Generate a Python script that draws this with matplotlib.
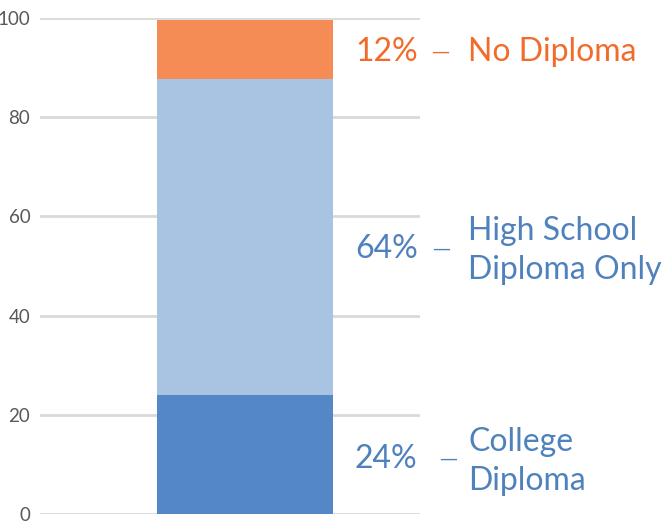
import matplotlib
matplotlib.use("Agg")
import matplotlib.pyplot as plt
import matplotlib.transforms as mtrans
from matplotlib.transforms import offset_copy

# Data
categories = ["College\nDiploma", "High School\nDiploma Only", "No Diploma"]
values = [24.0, 63.8, 11.8]
pct_labels = ["24%", "64%", "12%"]
bar_colors = ["#5487C6", "#A9C3E2", "#F58C56"]
text_colors = ["#4F81BD", "#4F81BD", "#F26B2A"]
y_ticks = [0, 20, 40, 60, 80, 100]

plt.rcParams['font.family'] = ['Lato', 'DejaVu Sans']

fig = plt.figure(figsize=(6.66, 5.21), dpi=100)
ax = fig.add_axes([40/666, 7/521, 380/666, 496/521])

bottom = 0.0
mids = []
for v, c in zip(values, bar_colors):
    ax.bar(0, v, width=1.0, bottom=bottom, color=c, zorder=3)
    mids.append(bottom + v / 2)
    bottom += v

ax.set_xlim(-205/176, 175/176)
ax.set_ylim(0, 100)
ax.set_yticks(y_ticks)
ax.set_xticks([])
ax.grid(axis='y', color='#D9D9D9', linewidth=2, zorder=0)
for s in ax.spines.values():
    s.set_visible(False)
ax.tick_params(axis='y', length=0, pad=7, labelsize=13.5, labelcolor='#595959')

fsz = 23
pct_off = [-3.2, -8.6, -2]    # small vertical nudges in points
name_off = [-5, -10, -2]
dash_x = [439, 432, 431]
for i in range(len(values)):
    tr1 = offset_copy(ax.transData, fig=fig, x=0, y=pct_off[i], units='points')
    b1 = mtrans.blended_transform_factory(fig.transFigure, tr1)
    tr2 = offset_copy(ax.transData, fig=fig, x=0, y=name_off[i], units='points')
    b2 = mtrans.blended_transform_factory(fig.transFigure, tr2)
    ax.text(355/666, mids[i], pct_labels[i], transform=b1, ha='left', va='center',
            fontsize=fsz, color=text_colors[i], clip_on=False)
    ax.text(dash_x[i]/666, mids[i], "—", transform=b1, ha='left', va='center',
            fontsize=13, family='DejaVu Sans', color=text_colors[i], clip_on=False)
    ax.text(468/666, mids[i], categories[i], transform=b2, ha='left', va='center',
            fontsize=fsz, color=text_colors[i], clip_on=False, linespacing=1.35)

fig.savefig("out.png", dpi=100)
